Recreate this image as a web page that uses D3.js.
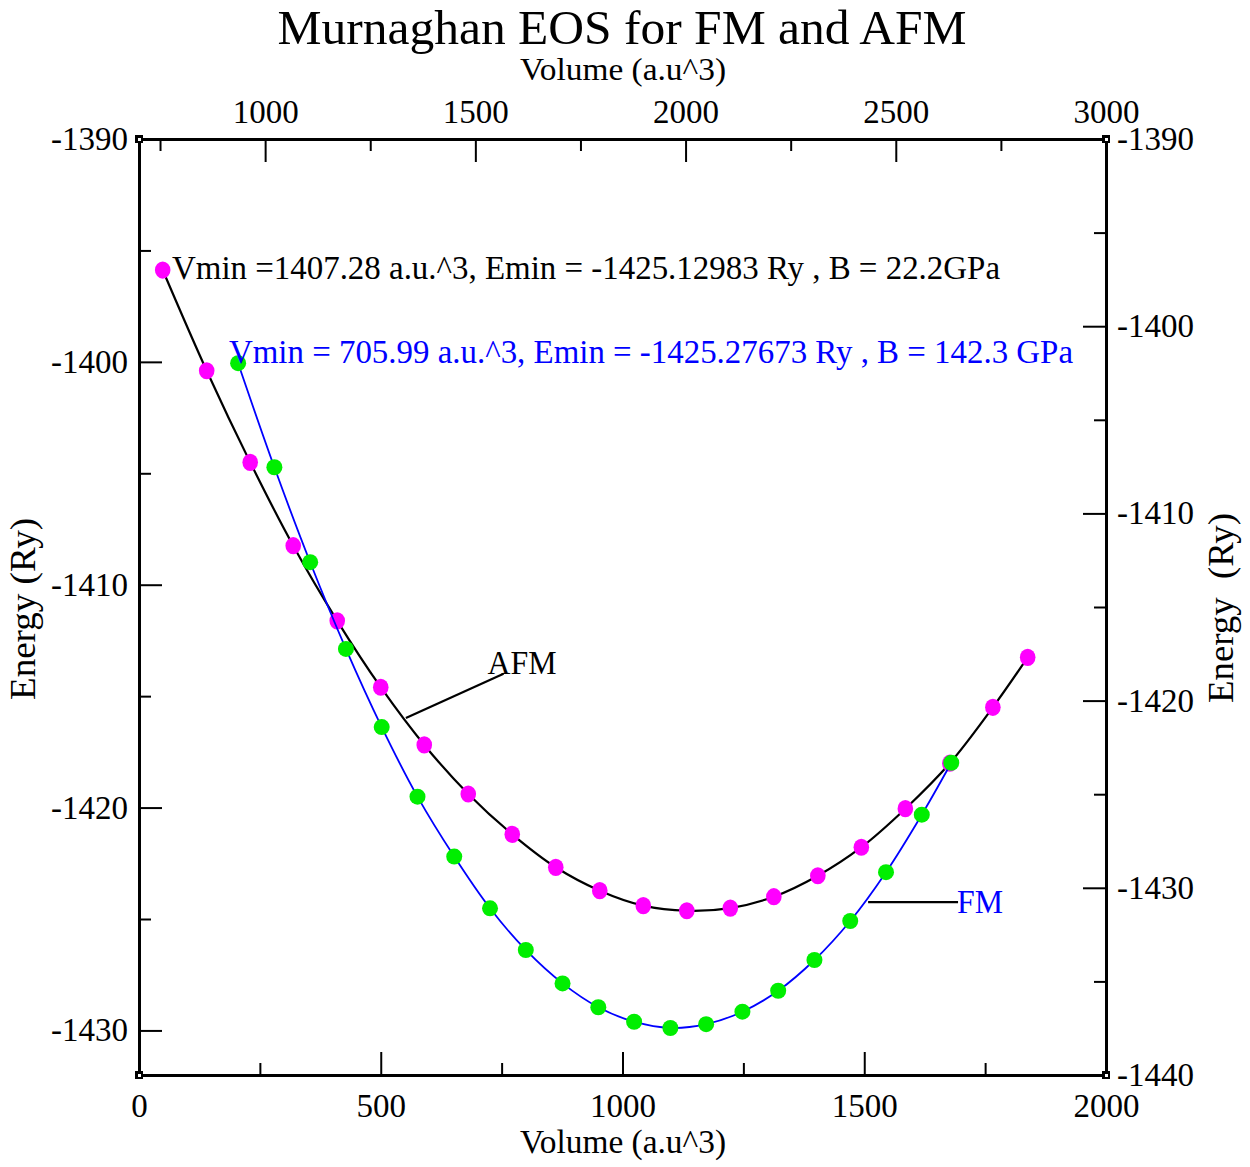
<!DOCTYPE html>
<html>
<head>
<meta charset="utf-8">
<script src="https://cdn.jsdelivr.net/npm/d3@7"></script>
<style>
  html, body { margin: 0; padding: 0; background: #fff; }
  svg text { font-family: "Liberation Serif", "DejaVu Serif", serif; }
</style>
</head>
<body>
<svg id="chart" width="1250" height="1167"></svg>
<script>
// ---------- DATA ----------
const afmVolume = [49, 140, 230, 319, 410, 500, 590, 681, 772, 862, 953, 1043, 1133, 1223, 1313, 1404, 1494, 1585, 1677, 1766, 1838];
const afmEnergy = [-1395.88, -1400.40, -1404.51, -1408.25, -1411.62, -1414.60, -1417.19, -1419.39, -1421.20, -1422.68,
                   -1423.73, -1424.40, -1424.63, -1424.51, -1424.00, -1423.06, -1421.78, -1420.05, -1418.01, -1415.50, -1413.26];
const fmVolume = [205, 280, 354, 428, 502, 576, 652, 726, 800, 876, 950, 1024, 1099, 1173, 1248, 1322, 1397, 1471, 1545, 1619, 1680];
const fmEnergy = [-1400.06, -1404.73, -1408.99, -1412.88, -1416.39, -1419.51, -1422.20, -1424.52, -1426.39, -1427.89,
                  -1428.96, -1429.61, -1429.89, -1429.72, -1429.16, -1428.22, -1426.84, -1425.09, -1422.90, -1420.32, -1417.99];

const bottomTicks = [0, 500, 1000, 1500, 2000];
const bottomMinor = [250, 750, 1250, 1750];
const topTicks = [1000, 1500, 2000, 2500, 3000];
const topMinor = [750, 1250, 1750, 2250, 2750];
const leftTicks = [-1390, -1400, -1410, -1420, -1430];
const leftMinor = [-1395, -1405, -1415, -1425];
const rightTicks = [-1390, -1400, -1410, -1420, -1430, -1440];
const rightMinor = [-1395, -1405, -1415, -1425, -1435];

const titleText = "Murnaghan EOS for FM and AFM";
const xLabel = "Volume (a.u^3)";
const yLabel = "Energy (Ry)";
const yLabelRight = "Energy  (Ry)";
const afmNote = "Vmin =1407.28 a.u.^3, Emin = -1425.12983 Ry , B = 22.2GPa";
const fmNote = "Vmin = 705.99 a.u.^3, Emin = -1425.27673 Ry , B = 142.3 GPa";
const afmName = "AFM";
const fmName = "FM";

// ---------- LAYOUT ----------
const L = 139, R = 1106, T = 139, B = 1075;
const svg = d3.select("#chart");

const x = d3.scaleLinear().domain([0, 2000]).range([L, R]);
const y = d3.scaleLinear().domain([-1432, -1390]).range([B, T]);
const xTop = d3.scaleLinear().domain([700, 3000]).range([L, R]);
const yRight = d3.scaleLinear().domain([-1440, -1390]).range([B, T]);

const fmt = d => String(d);
const FS = 33;

function styleAxis(g) {
  g.select(".domain").attr("stroke", "#000").attr("stroke-width", 3);
  g.selectAll(".tick line").attr("stroke", "#000").attr("stroke-width", 2);
  g.selectAll(".tick text").attr("fill", "#000").style("font-size", FS + "px")
    .style("font-family", '"Liberation Serif", serif');
}
function minor(g) {
  g.select(".domain").remove();
  g.selectAll(".tick text").remove();
  g.selectAll(".tick line").attr("stroke", "#000").attr("stroke-width", 2);
}

// bottom
svg.append("g").attr("transform", `translate(0,${B})`)
  .call(d3.axisBottom(x).tickValues(bottomTicks).tickFormat(fmt).tickSizeInner(-23).tickSizeOuter(0).tickPadding(19))
  .call(styleAxis);
svg.append("g").attr("transform", `translate(0,${B})`)
  .call(d3.axisBottom(x).tickValues(bottomMinor).tickSizeInner(-12).tickSizeOuter(0)).call(minor);
// top
svg.append("g").attr("transform", `translate(0,${T})`)
  .call(d3.axisTop(xTop).tickValues(topTicks).tickFormat(fmt).tickSizeInner(-23).tickSizeOuter(0).tickPadding(16))
  .call(styleAxis);
svg.append("g").attr("transform", `translate(0,${T})`)
  .call(d3.axisTop(xTop).tickValues(topMinor).tickSizeInner(-12).tickSizeOuter(0)).call(minor);
// left
svg.append("g").attr("transform", `translate(${L},0)`)
  .call(d3.axisLeft(y).tickValues(leftTicks).tickFormat(fmt).tickSizeInner(-23).tickSizeOuter(0).tickPadding(11))
  .call(styleAxis);
svg.append("g").attr("transform", `translate(${L},0)`)
  .call(d3.axisLeft(y).tickValues(leftMinor).tickSizeInner(-12).tickSizeOuter(0)).call(minor);
// right
svg.append("g").attr("transform", `translate(${R},0)`)
  .call(d3.axisRight(yRight).tickValues(rightTicks).tickFormat(fmt).tickSizeInner(-23).tickSizeOuter(0).tickPadding(11))
  .call(styleAxis);
svg.append("g").attr("transform", `translate(${R},0)`)
  .call(d3.axisRight(yRight).tickValues(rightMinor).tickSizeInner(-12).tickSizeOuter(0)).call(minor);

// corner squares
[[L, T], [R, T], [L, B], [R, B]].forEach(([cx, cy]) => {
  svg.append("rect").attr("x", cx - 4).attr("y", cy - 4).attr("width", 8).attr("height", 8)
    .attr("fill", "#000");
  svg.append("rect").attr("x", cx - 1).attr("y", cy - 1).attr("width", 3).attr("height", 3)
    .attr("fill", "#fff");
});

// ---------- SERIES ----------
const afm = afmVolume.map((v, i) => ({ v, e: afmEnergy[i] }));
const fm = fmVolume.map((v, i) => ({ v, e: fmEnergy[i] }));
const line = d3.line().x(d => x(d.v)).y(d => y(d.e)).curve(d3.curveCatmullRom.alpha(0.5));

svg.append("path").datum(afm).attr("d", line).attr("fill", "none").attr("stroke", "#000").attr("stroke-width", 2.2);
svg.append("g").selectAll("ellipse").data(afm).join("ellipse")
  .attr("cx", d => x(d.v)).attr("cy", d => y(d.e)).attr("rx", 7.8).attr("ry", 8.6).attr("fill", "#ff00ff");

svg.append("path").datum(fm).attr("d", line).attr("fill", "none").attr("stroke", "#0000ff").attr("stroke-width", 1.8);
svg.append("g").selectAll("circle").data(fm).join("circle")
  .attr("cx", d => x(d.v)).attr("cy", d => y(d.e)).attr("r", 8).attr("fill", "#00ee00");

// ---------- ANNOTATIONS ----------
// AFM pointer
svg.append("line").attr("x1", x(552)).attr("y1", y(-1415.98)).attr("x2", x(754)).attr("y2", y(-1414.0))
  .attr("stroke", "#000").attr("stroke-width", 2.2);
svg.append("text").attr("x", x(721)).attr("y", y(-1414.0)).text(afmName)
  .style("font-size", "33px").attr("fill", "#000").attr("textLength", 69).attr("lengthAdjust", "spacingAndGlyphs");
// FM pointer
svg.append("line").attr("x1", x(1508)).attr("y1", y(-1424.24)).attr("x2", x(1694)).attr("y2", y(-1424.24))
  .attr("stroke", "#000").attr("stroke-width", 2.2);
svg.append("text").attr("x", x(1692)).attr("y", y(-1424.74)).text(fmName)
  .style("font-size", "33px").attr("fill", "#0000ff").attr("textLength", 46).attr("lengthAdjust", "spacingAndGlyphs");

svg.append("text").attr("x", 172).attr("y", 279).text(afmNote)
  .style("font-size", "33px").attr("fill", "#000").attr("textLength", 828).attr("lengthAdjust", "spacingAndGlyphs");
svg.append("text").attr("x", 229).attr("y", 363).text(fmNote)
  .style("font-size", "33px").attr("fill", "#0000ff").attr("textLength", 844).attr("lengthAdjust", "spacingAndGlyphs");

// ---------- TITLES ----------
svg.append("text").attr("x", 622).attr("y", 44).attr("text-anchor", "middle").text(titleText)
  .style("font-size", "48px").attr("fill", "#000").attr("textLength", 689).attr("lengthAdjust", "spacingAndGlyphs");
svg.append("text").attr("x", 623).attr("y", 80).attr("text-anchor", "middle").text(xLabel)
  .style("font-size", "31px").attr("fill", "#000").attr("textLength", 206).attr("lengthAdjust", "spacingAndGlyphs");
svg.append("text").attr("x", 623).attr("y", 1153).attr("text-anchor", "middle").text(xLabel)
  .style("font-size", "33px").attr("fill", "#000").attr("textLength", 206).attr("lengthAdjust", "spacingAndGlyphs");
svg.append("text").attr("transform", "translate(35,609) rotate(-90)").attr("text-anchor", "middle").text(yLabel)
  .style("font-size", "35px").attr("fill", "#000").attr("textLength", 182).attr("lengthAdjust", "spacingAndGlyphs");
svg.append("text").attr("transform", "translate(1233,608) rotate(-90)").attr("text-anchor", "middle").text(yLabelRight)
  .style("font-size", "35px").style("white-space", "pre").attr("fill", "#000").attr("textLength", 190).attr("lengthAdjust", "spacingAndGlyphs");
</script>
</body>
</html>
